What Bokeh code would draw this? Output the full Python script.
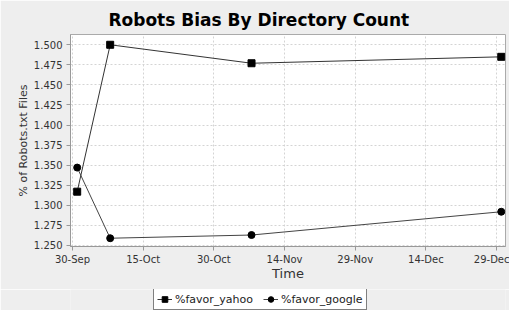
from datetime import datetime
from bokeh.plotting import figure
from bokeh.layouts import column
from bokeh.models import (Range1d, FixedTicker, DatetimeTickFormatter, Legend,
                          LegendItem, NumeralTickFormatter, ColumnDataSource)
from bokeh.embed import file_html
from bokeh.resources import INLINE

# ---- data ----
dates = ["2007-10-01", "2007-10-08", "2007-11-07", "2007-12-30"]
favor_yahoo = [1.317, 1.500, 1.477, 1.485]
favor_google = [1.347, 1.259, 1.263, 1.292]
x_tick_dates = ["2007-09-30", "2007-10-15", "2007-10-30", "2007-11-14",
                "2007-11-29", "2007-12-14", "2007-12-29"]
y_ticks = [1.250, 1.275, 1.300, 1.325, 1.350, 1.375, 1.400, 1.425,
           1.450, 1.475, 1.500]
title = "Robots Bias By Directory Count"
x_label = "Time"
y_label = "% of Robots.txt Files"
series_names = ["%favor_yahoo", "%favor_google"]


def to_dt(s):
    return datetime.strptime(s, "%Y-%m-%d")


def to_ms(s):
    return (to_dt(s) - datetime(1970, 1, 1)).total_seconds() * 1000.0


src = ColumnDataSource(dict(x=[to_dt(d) for d in dates],
                            yahoo=favor_yahoo, google=favor_google))

day = 86400000.0
x0 = to_ms("2007-09-30") - 0.42 * day
x1 = to_ms("2007-12-29") + 1.9 * day

FONT = "DejaVu Sans"
BG = "#eeeeee"

p = figure(width=509, height=289, x_axis_type="datetime",
           output_backend="svg", toolbar_location=None,
           x_range=Range1d(x0, x1), y_range=Range1d(1.2487, 1.5128),
           background_fill_color="white", border_fill_color=BG,
           min_border_left=70, min_border_right=4, min_border_top=34,
           min_border_bottom=43)

p.title.text = title
p.title.align = "left"
p.title.text_font = FONT
p.title.text_font_style = "bold"
p.title.text_font_size = "17px"
p.title.text_color = "black"
p.title.offset = 38
p.title.standoff = 10

p.outline_line_color = "#aaaaaa"

for g in (p.xgrid, p.ygrid):
    g.grid_line_color = "#d4d4d4"
    g.grid_line_dash = "2 2"
    g.grid_line_width = 1

p.xaxis.ticker = FixedTicker(ticks=[to_ms(d) for d in x_tick_dates])
p.xaxis.formatter = DatetimeTickFormatter(days="%d-%b", months="%d-%b",
                                          hours="%d-%b")
p.yaxis.ticker = FixedTicker(ticks=y_ticks)
p.yaxis.formatter = NumeralTickFormatter(format="0.000")

for ax in (p.xaxis, p.yaxis):
    ax.axis_line_color = "#999999"
    ax.major_tick_line_color = "#999999"
    ax.major_tick_out = 4
    ax.major_tick_in = 0
    ax.minor_tick_line_color = None
    ax.major_label_text_font = FONT
    ax.major_label_text_font_size = "10px"
    ax.major_label_text_color = "#333333"
    ax.axis_label_text_font = FONT
    ax.axis_label_text_font_style = "normal"
    ax.axis_label_text_color = "#333333"
    ax.major_label_standoff = 4

p.xaxis.major_label_standoff = 3
p.xaxis.axis_label = x_label
p.xaxis.axis_label_text_font_size = "13px"
p.xaxis.axis_label_standoff = -2
p.yaxis.axis_label = y_label
p.yaxis.axis_label_text_font_size = "11px"
p.yaxis.axis_label_standoff = 1

p.line("x", "yahoo", source=src, line_color="#333333", line_width=1)
p.scatter("x", "yahoo", source=src, marker="square", size=7,
          fill_color="black", line_color="black")
p.line("x", "google", source=src, line_color="#444444", line_width=1)
p.scatter("x", "google", source=src, marker="circle", size=7,
          fill_color="black", line_color="black")

# ---- legend strip below the chart (its glyphs fall outside its range) ----
q = figure(width=509, height=21, output_backend="svg", toolbar_location=None,
           x_range=Range1d(0, 1), y_range=Range1d(0, 1),
           x_axis_location=None, y_axis_location=None,
           background_fill_color=BG, border_fill_color=BG,
           min_border_left=0, min_border_right=0, min_border_top=0,
           min_border_bottom=0)
q.outline_line_color = None
q.xgrid.visible = False
q.ygrid.visible = False
ql1 = q.line("x", "yahoo", source=src, line_color="#333333", line_width=1)
qs1 = q.scatter("x", "yahoo", source=src, marker="square", size=6,
                fill_color="black", line_color="black")
ql2 = q.line("x", "google", source=src, line_color="#444444", line_width=1)
qs2 = q.scatter("x", "google", source=src, marker="circle", size=6,
                fill_color="black", line_color="black")

legend = Legend(items=[LegendItem(label=series_names[0], renderers=[ql1, qs1]),
                       LegendItem(label=series_names[1], renderers=[ql2, qs2])],
                orientation="horizontal", location=(83, 0),
                border_line_color="black", border_line_width=1,
                background_fill_color="white", background_fill_alpha=1,
                label_text_font=FONT, label_text_font_size="11px",
                label_text_color="#222222",
                glyph_width=15, glyph_height=14, label_height=14,
                label_standoff=3, padding=3, spacing=10, margin=0)
q.add_layout(legend, "center")

open("out.html", "w").write(file_html(column(p, q, spacing=0), INLINE))
